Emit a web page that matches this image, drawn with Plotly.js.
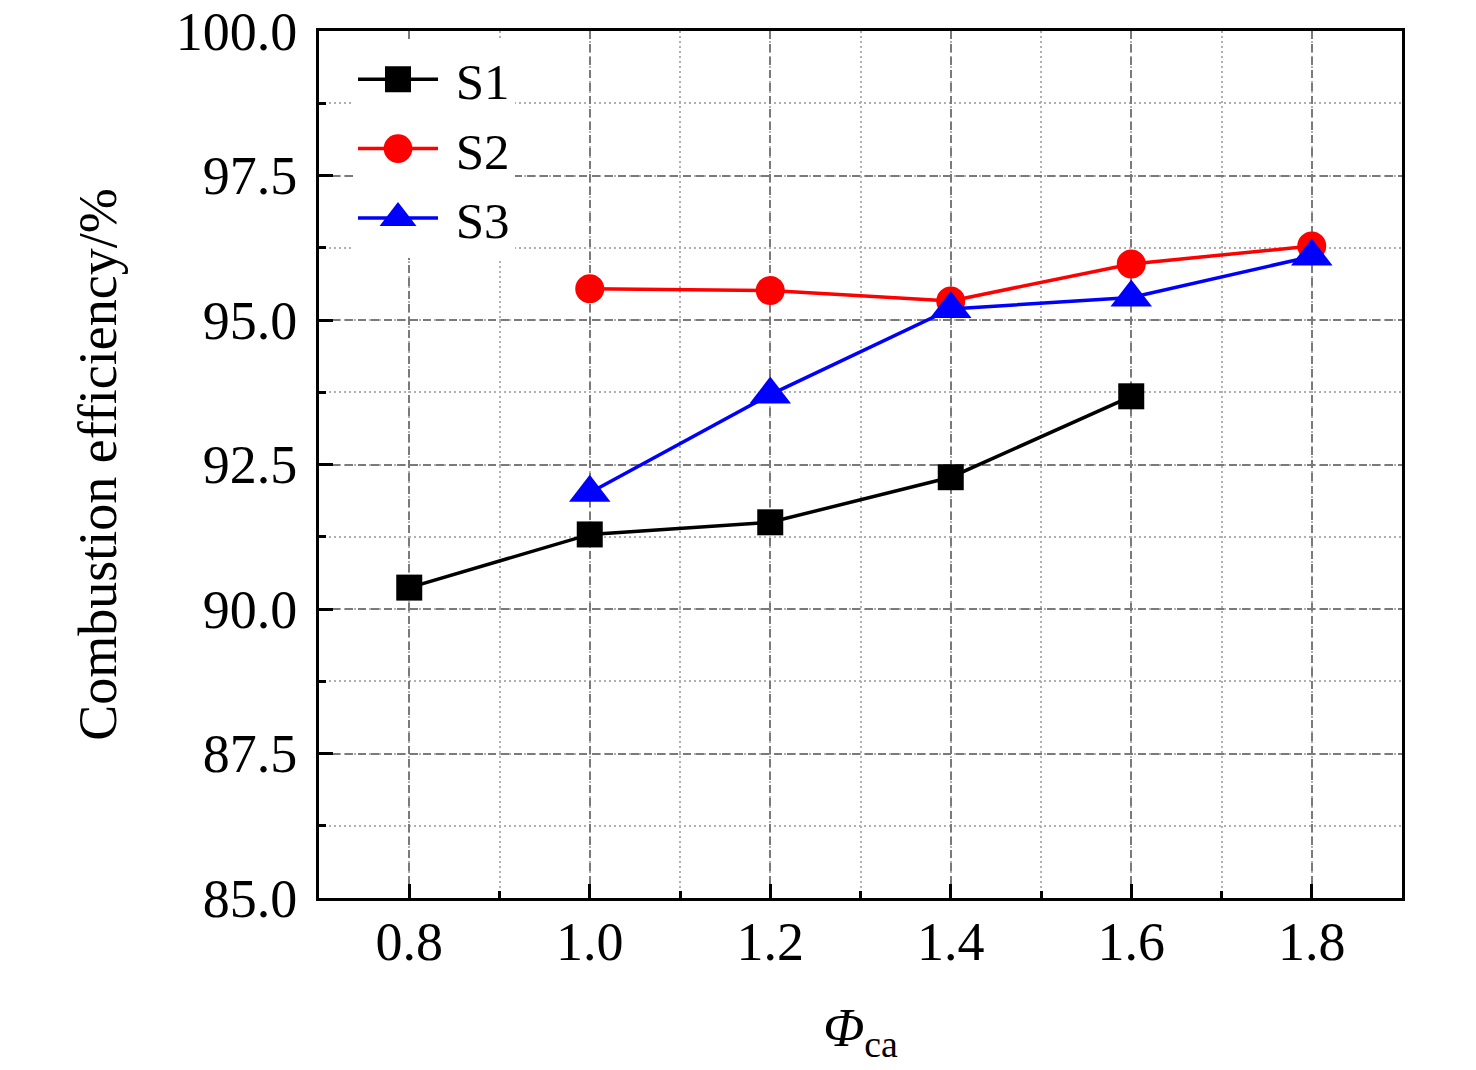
<!DOCTYPE html>
<html><head><meta charset="utf-8">
<script src="https://cdn.plot.ly/plotly-3.0.1.min.js"></script>
<style>body{margin:0;background:#fff}#chart{width:1476px;height:1070px}</style>
</head><body><div id="chart"></div>
<script>
// Data
const seriesNames = ['S1', 'S2', 'S3'];
const s1Phi = [0.8, 1.0, 1.2, 1.4, 1.6];
const s1Eff = [90.37, 91.29, 91.50, 92.28, 93.68];
const s2Phi = [1.0, 1.2, 1.4, 1.6, 1.8];
const s2Eff = [95.54, 95.51, 95.33, 95.97, 96.28];
const s3Phi = [1.0, 1.2, 1.4, 1.6, 1.8];
const s3Eff = [92.01, 93.71, 95.19, 95.39, 96.10];
const xTickVals = [0.8, 1.0, 1.2, 1.4, 1.6, 1.8];
const yTickVals = [85, 87.5, 90, 92.5, 95, 97.5, 100];

const FONT = 'Liberation Serif, Times New Roman, serif';
const PAD = '\u00a0';

const traces = [
  {x: s1Phi, y: s1Eff, name: PAD + seriesNames[0], mode: 'lines+markers',
   line: {color: '#000000', width: 3.5},
   marker: {symbol: 'square', size: 26, color: '#000000'}},
  {x: s2Phi, y: s2Eff, name: PAD + seriesNames[1], mode: 'lines+markers',
   line: {color: '#ff0000', width: 3.5},
   marker: {symbol: 'circle', size: 29, color: '#ff0000'}},
  {x: s3Phi, y: s3Eff, name: PAD + seriesNames[2], mode: 'lines+markers',
   line: {color: '#0000ff', width: 3.5},
   marker: {symbol: 'triangle-up', size: 36, color: '#0000ff'}}
];

const axisCommon = {
  showline: true, linecolor: '#000', linewidth: 3, mirror: true,
  ticks: 'inside', ticklen: 14, tickwidth: 3, tickcolor: '#000',
  showgrid: true, gridcolor: '#7a7a7a', gridwidth: 2, griddash: '8px,5px',
  zeroline: false,
  tickfont: {family: FONT, size: 54, color: '#000'},
  tickformat: '.1f'
};

const layout = {
  width: 1476, height: 1070,
  paper_bgcolor: '#fff', plot_bgcolor: '#fff',
  margin: {l: 319, r: 74, t: 31, b: 172},
  font: {family: FONT, color: '#000'},
  showlegend: true,
  legend: {
    x: 0.0314, y: 0.99, xanchor: 'left', yanchor: 'top',
    bgcolor: '#fff', borderwidth: 0,
    font: {family: FONT, size: 51, color: '#000'},
    itemwidth: 80, tracegroupgap: 0
  },
  xaxis: Object.assign({}, axisCommon, {
    range: [0.7, 1.9], tickvals: xTickVals, ticklabelstandoff: -6,
    minor: {dtick: 0.1, tick0: 0.7, ticks: 'inside', ticklen: 7, tickwidth: 3, tickcolor: '#000',
            showgrid: true, gridcolor: '#b0b0b0', gridwidth: 2, griddash: '2px,3px'},
    title: {text: '<i>Φ</i><sub>ca</sub>', font: {family: FONT, size: 54, color: '#000'}, standoff: 38}
  }),
  yaxis: Object.assign({}, axisCommon, {
    range: [85, 100], tickvals: yTickVals, ticklabelstandoff: 8,
    minor: {dtick: 1.25, tick0: 85, ticks: 'inside', ticklen: 7, tickwidth: 3, tickcolor: '#000',
            showgrid: true, gridcolor: '#b0b0b0', gridwidth: 2, griddash: '2px,3px'},
    title: {text: 'Combustion efficiency/%', font: {family: FONT, size: 54, color: '#000'}, standoff: 42}
  })
};

const legendScales = [1.625, 1.8, 2.0];
Plotly.newPlot('chart', traces, layout, {displayModeBar: false, staticPlot: true}).then(function (gd) {
  const items = gd.querySelectorAll('.legend .traces');
  items.forEach(function (tr, i) {
    tr.querySelectorAll('.legendpoints path.scatterpts').forEach(function (p) {
      const t = p.getAttribute('transform') || '';
      p.setAttribute('transform', t + ' scale(' + legendScales[i] + ')');
    });
    tr.querySelectorAll('.legendlines path').forEach(function (p) {
      p.style.strokeWidth = '3.5px';
    });
  });
});
</script>
</body></html>
